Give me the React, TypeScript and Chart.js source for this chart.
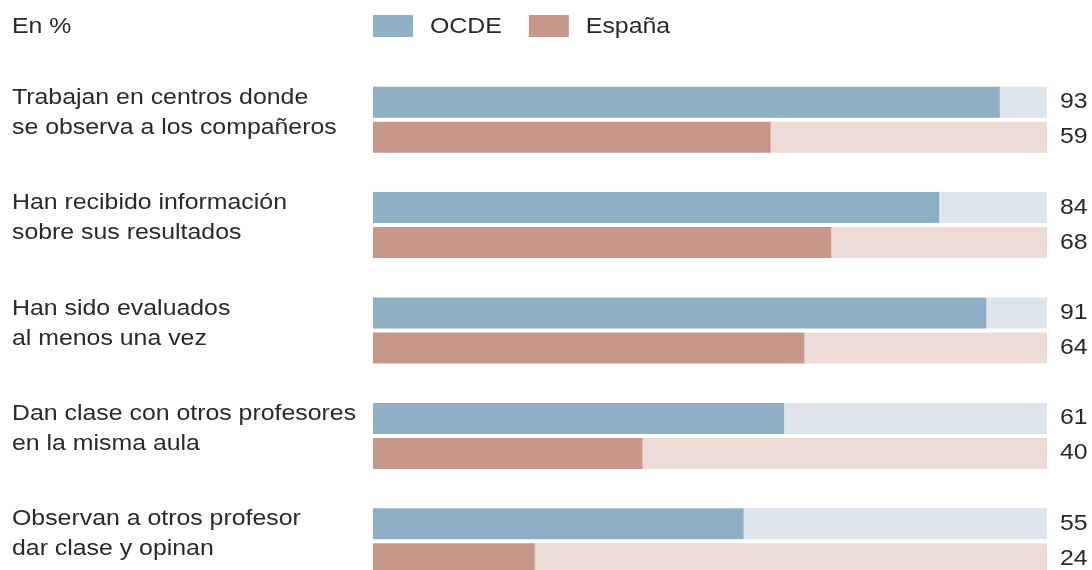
import React, { useEffect, useRef } from "react";
import { Chart, registerables } from "chart.js";

Chart.register(...registerables);

const categories: string[][] = [
  ["Trabajan en centros donde", "se observa a los compañeros"],
  ["Han recibido información", "sobre sus resultados"],
  ["Han sido evaluados", "al menos una vez"],
  ["Dan clase con otros profesores", "en la misma aula"],
  ["Observan a otros profesor", "dar clase y opinan"],
];
const ocdeValues = [93, 84, 91, 61, 55];
const espanaValues = [59, 68, 64, 40, 24];
const seriesNames = ["OCDE", "España"];
const unitLabel = "En %";
const maxValue = 100;

const FONT = '"Liberation Sans", Arial, sans-serif';
const TEXT = "#2a2a2a";
const OCDE = "#8fafc4";
const OCDE_TRACK = "#dfe5ec";
const ESP = "#c9978a";
const ESP_TRACK = "#eddcd5";
const STRETCH = 1.13;

export default function App() {
  const ref = useRef<HTMLCanvasElement | null>(null);

  useEffect(() => {
    document.body.style.margin = "0";
    const canvas = ref.current;
    if (!canvas) return;

    const labelsPlugin = {
      id: "customLabels",
      afterDraw(chart: any) {
        const ctx = chart.ctx;
        const yScale = chart.scales.y;
        const wideText = (s: string, x: number, y: number) => {
          ctx.save();
          ctx.translate(x, y);
          ctx.scale(STRETCH, 1);
          ctx.fillText(s, 0, 0);
          ctx.restore();
          return ctx.measureText(s).width * STRETCH;
        };
        ctx.save();
        ctx.fillStyle = TEXT;
        ctx.font = `22px ${FONT}`;
        ctx.textBaseline = "middle";
        ctx.textAlign = "left";
        // Header
        wideText(unitLabel, 12, 27);
        // Legend
        let lx = chart.chartArea.left;
        const legendItems = [
          { name: seriesNames[0], color: OCDE },
          { name: seriesNames[1], color: ESP },
        ];
        legendItems.forEach((it) => {
          ctx.fillStyle = it.color;
          ctx.fillRect(lx, 15, 40, 22);
          ctx.fillStyle = TEXT;
          const w = wideText(it.name, lx + 57, 27);
          lx += 57 + w + 27;
        });
        // Category labels
        categories.forEach((lines, i) => {
          const c = yScale.getPixelForValue(i);
          lines.forEach((line, j) => {
            wideText(line, 12, c - 22 + j * 30);
          });
        });
        // Value labels
        [0, 2].forEach((di) => {
          const meta = chart.getDatasetMeta(di);
          const data = chart.data.datasets[di].data;
          meta.data.forEach((bar: any, i: number) => {
            wideText(String(data[i]), chart.chartArea.right + 13, bar.y);
          });
        });
        ctx.restore();
      },
    };

    const chart = new Chart(canvas, {
      type: "bar",
      data: {
        labels: categories.map((c) => c.join(" ")),
        datasets: [
          {
            label: seriesNames[0],
            data: ocdeValues,
            backgroundColor: OCDE,
            stack: "ocde",
          },
          {
            label: seriesNames[0] + " resto",
            data: ocdeValues.map((v) => maxValue - v),
            backgroundColor: OCDE_TRACK,
            stack: "ocde",
          },
          {
            label: seriesNames[1],
            data: espanaValues,
            backgroundColor: ESP,
            stack: "esp",
          },
          {
            label: seriesNames[1] + " resto",
            data: espanaValues.map((v) => maxValue - v),
            backgroundColor: ESP_TRACK,
            stack: "esp",
          },
        ],
      },
      options: {
        indexAxis: "y",
        animation: false,
        responsive: false,
        maintainAspectRatio: false,
        datasets: {
          bar: {
            categoryPercentage: 0.664,
            barPercentage: 0.886,
            borderWidth: 0,
          },
        },
        layout: {
          padding: { left: 373, right: 45, top: 67, bottom: 6 },
        },
        scales: {
          x: { display: false, min: 0, max: maxValue, stacked: true },
          y: { display: false },
        },
        plugins: {
          legend: { display: false },
          tooltip: { enabled: false },
        },
      },
      plugins: [labelsPlugin],
    });

    return () => chart.destroy();
  }, []);

  return (
    <div style={{ width: 1092, height: 570, overflow: "hidden", background: "#fff" }}>
      <canvas ref={ref} width={1092} height={600} style={{ display: "block" }} />
    </div>
  );
}
